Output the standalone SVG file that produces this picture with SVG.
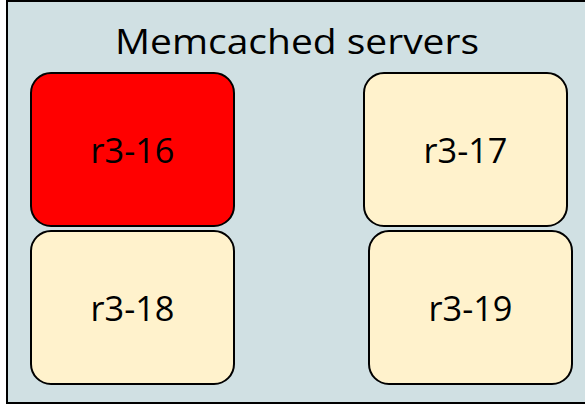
<svg xmlns="http://www.w3.org/2000/svg" width="585" height="405" viewBox="0 0 585 405">
  <style>
    .frame { fill: #d0e0e3; stroke: #000; stroke-width: 2; }
    .node { stroke: #000; stroke-width: 2; }
    .idle { fill: #fff2cc; }
    .down { fill: #ff0000; }
    .label { font-family: "Open Sans", "Liberation Sans", sans-serif; font-size: 35px; fill: #000; text-anchor: middle; }
  </style>
  <rect id="frame" class="frame" x="7" y="1" width="600" height="402"/>
  <text class="label" x="297" y="54" textLength="364" lengthAdjust="spacingAndGlyphs">Memcached servers</text>
  <g id="r3-16">
    <rect class="node down" x="31" y="73" width="203" height="153" rx="20"/>
    <text class="label" x="132.5" y="163" textLength="84" lengthAdjust="spacingAndGlyphs">r3-16</text>
  </g>
  <g id="r3-17">
    <rect class="node idle" x="364" y="73" width="203" height="153" rx="20"/>
    <text class="label" x="465.5" y="163" textLength="84" lengthAdjust="spacingAndGlyphs">r3-17</text>
  </g>
  <g id="r3-18">
    <rect class="node idle" x="31" y="231" width="203" height="153" rx="20"/>
    <text class="label" x="132.5" y="321" textLength="84" lengthAdjust="spacingAndGlyphs">r3-18</text>
  </g>
  <g id="r3-19">
    <rect class="node idle" x="369" y="231" width="203" height="153" rx="20"/>
    <text class="label" x="470.5" y="321" textLength="84" lengthAdjust="spacingAndGlyphs">r3-19</text>
  </g>
  <g id="connectors"/>
</svg>
